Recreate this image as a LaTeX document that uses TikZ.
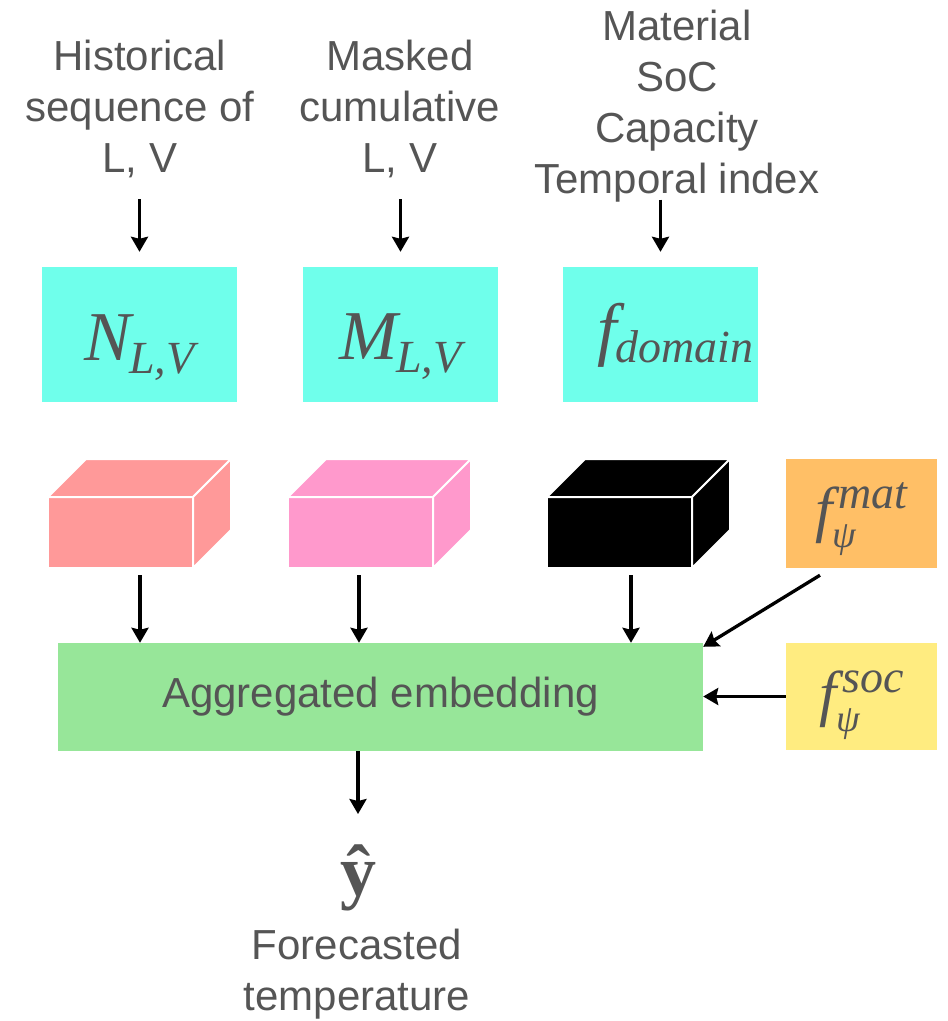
\documentclass[tikz,border=0pt]{standalone}
\usepackage{fontspec}
\setmainfont{Liberation Sans}
\newfontfamily\mserif{Liberation Serif}
\usetikzlibrary{arrows.meta}
\definecolor{txt}{HTML}{555555}
\definecolor{cyanbox}{HTML}{6FFFEB}
\definecolor{cubeA}{HTML}{FF9999}
\definecolor{cubeB}{HTML}{FF99CC}
\definecolor{matbox}{HTML}{FFBF66}
\definecolor{socbox}{HTML}{FFEC80}
\definecolor{aggbox}{HTML}{97E699}
\newcommand\fpsi[1]{f\raisebox{-17pt}{\makebox[0pt][l]{\fontsize{38}{38}\selectfont ψ}}\raisebox{22pt}{\fontsize{46}{46}\selectfont\kern6pt #1}}
\newcommand\subtxt[1]{\raisebox{-13pt}{\fontsize{46}{46}\selectfont #1}}
\begin{document}
\begin{tikzpicture}[x=1pt,y=-1pt,
  lbl/.style={align=center, text=txt, font=\fontsize{42}{51}\selectfont, inner sep=0pt, anchor=north},
  netbox/.style={fill=cyanbox, minimum width=195pt, minimum height=135pt, inner sep=0pt, text=txt,
    font=\mserif\itshape\fontsize{70}{70}\selectfont, text depth=0pt},
  sidebox/.style={minimum width=151pt, inner sep=0pt, text=txt,
    font=\mserif\itshape\fontsize{62}{62}\selectfont, text depth=0pt},
  cubefront/.style={draw=white, line width=2pt, minimum width=145pt, minimum height=71pt, inner sep=0pt, outer sep=0pt},
  cubeside/.style={draw=white, line width=2pt, line join=miter},
  arr/.style={line width=3.3pt, -{Stealth[width=17pt,length=15pt,inset=2pt]}},
]
\useasboundingbox (0,0) rectangle (948,1021);

% input labels
\node[lbl] (t1) at (140,40) {Historical\\sequence of\\L, V};
\node[lbl] (t2) at (400,40) {Masked\\cumulative\\L, V};
\node[lbl] (t3) at (677,10) {Material\\SoC\\Capacity\\Temporal index};

% encoders
\node[netbox, text height=51pt] (n1) at (139.5,334.5) {N\kern-2pt\subtxt{L,V}};
\node[netbox, text height=49pt] (n2) at (400.5,334.5) {M\kern-2pt\subtxt{L,V}};
\node[netbox, text height=35pt] (n3) at (660.5,334.5) {\hspace*{30pt}f\kern-1pt\raisebox{-10pt}{\fontsize{46}{46}\selectfont domain}};

\draw[arr, shorten <=21pt, shorten >=15pt] (t1.south -| n1.north) -- (n1.north);
\draw[arr, shorten <=21pt, shorten >=15pt] (t2.south -| n2.north) -- (n2.north);
\draw[arr, shorten <=-3pt, shorten >=15pt] (t3.south -| n3.north) -- (n3.north);

% embedding cubes
\node[cubefront, fill=cubeA] (c1) at (120.5,532.5) {};
\draw[cubeside, fill=cubeA] (c1.north west) -- ++(38,-38) -- ++(145,0) -- (c1.north east) -- cycle;
\draw[cubeside, fill=cubeA] (c1.north east) -- ++(38,-38) -- ++(0,71) -- (c1.south east) -- cycle;

\node[cubefront, fill=cubeB] (c2) at (360.5,532.5) {};
\draw[cubeside, fill=cubeB] (c2.north west) -- ++(38,-38) -- ++(145,0) -- (c2.north east) -- cycle;
\draw[cubeside, fill=cubeB] (c2.north east) -- ++(38,-38) -- ++(0,71) -- (c2.south east) -- cycle;

\node[cubefront, fill=black] (c3) at (619.5,532.5) {};
\draw[cubeside, fill=black] (c3.north west) -- ++(38,-38) -- ++(145,0) -- (c3.north east) -- cycle;
\draw[cubeside, fill=black] (c3.north east) -- ++(38,-38) -- ++(0,71) -- (c3.south east) -- cycle;

% side encoders
\node[sidebox, fill=matbox, minimum height=109pt, text height=33pt] (fm) at (861.5,513.5) {\fpsi{mat}};
\node[sidebox, fill=socbox, minimum height=107pt, text height=35pt] (fs) at (861.5,696.5) {\fpsi{soc}};

% aggregated embedding
\node[fill=aggbox, minimum width=645pt, minimum height=108pt, inner sep=0pt, text=txt,
  font=\fontsize{42}{51}\selectfont] (agg) at (380.5,697) {Aggregated embedding};

\draw[arr, shorten <=7pt] ([xshift=19.5pt]c1.south) -- ([xshift=19.5pt]c1.south |- agg.north);
\draw[arr, shorten <=7pt] ([xshift=-1.5pt]c2.south) -- ([xshift=-1.5pt]c2.south |- agg.north);
\draw[arr, shorten <=7pt] ([xshift=11.5pt]c3.south) -- ([xshift=11.5pt]c3.south |- agg.north);
\draw[arr] ([xshift=-41.5pt,yshift=-7pt]fm.south) -- ([yshift=-4pt]agg.north east);
\draw[arr] (fs.west) -- (fs.west -| agg.east);

% output
\node[inner sep=0pt, anchor=base, text=txt, font=\mserif\bfseries\fontsize{72}{72}\selectfont] (yh) at (358,895) {ŷ};
\node[lbl] (ft) at (357,929) {Forecasted\\temperature};
\draw[arr] (agg.south -| yh.north) -- ([yshift=30pt]yh.north);
\end{tikzpicture}
\end{document}
